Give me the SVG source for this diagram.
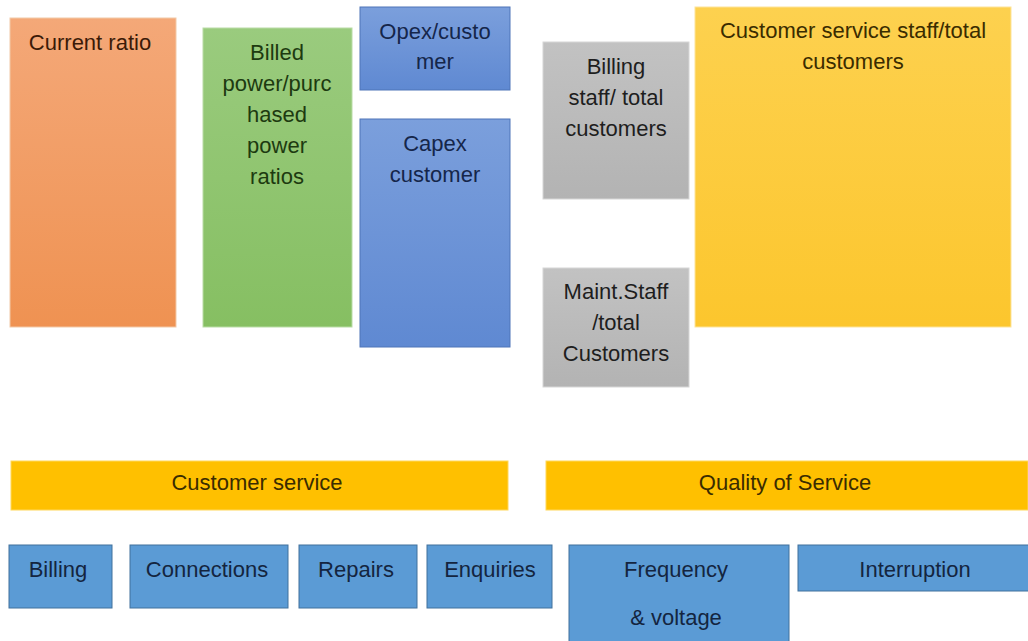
<svg xmlns="http://www.w3.org/2000/svg" width="1028" height="641" viewBox="0 0 1028 641">
  <defs>
    <linearGradient id="gOrange" x1="0" y1="0" x2="0" y2="1">
      <stop offset="0" stop-color="#f4a878"/>
      <stop offset="1" stop-color="#ef9252"/>
    </linearGradient>
    <linearGradient id="gGreen" x1="0" y1="0" x2="0" y2="1">
      <stop offset="0" stop-color="#9acb7e"/>
      <stop offset="1" stop-color="#86bf62"/>
    </linearGradient>
    <linearGradient id="gBlue" x1="0" y1="0" x2="0" y2="1">
      <stop offset="0" stop-color="#7b9fdc"/>
      <stop offset="1" stop-color="#5f89d2"/>
    </linearGradient>
    <linearGradient id="gGrey" x1="0" y1="0" x2="0" y2="1">
      <stop offset="0" stop-color="#c2c2c2"/>
      <stop offset="1" stop-color="#b3b3b3"/>
    </linearGradient>
    <linearGradient id="gGold" x1="0" y1="0" x2="0" y2="1">
      <stop offset="0" stop-color="#fdd14f"/>
      <stop offset="1" stop-color="#fcc62d"/>
    </linearGradient>
  </defs>
  <style>
    text { font-family: "Liberation Sans", Arial, sans-serif; font-size: 22px; text-anchor: middle; }
    .orange { fill: url(#gOrange); stroke: #f2c9a8; stroke-width: 1; }
    .green { fill: url(#gGreen); stroke: #b9dca6; stroke-width: 1; }
    .blue { fill: url(#gBlue); stroke: #4f74b8; stroke-width: 1; }
    .grey { fill: url(#gGrey); stroke: #d6d6d6; stroke-width: 1; }
    .gold { fill: url(#gGold); stroke: #fde49a; stroke-width: 1; }
    .bar { fill: #ffc000; stroke: #ffd75a; stroke-width: 1; }
    .item { fill: #5b9bd5; stroke: #41719c; stroke-width: 1; }
    .tOrange { fill: #3b1a08; }
    .tGreen { fill: #1d3a10; }
    .tBlue { fill: #15264a; }
    .tGrey { fill: #1e1e1e; }
    .tGold { fill: #3a2c00; }
    .tItem { fill: #14253f; }
  </style>

  <rect width="1028" height="641" fill="#ffffff"/>

  <!-- ratio indicators -->
  <g id="current-ratio">
    <rect class="orange" x="10" y="18" width="166" height="309"/>
    <text class="tOrange" x="90" y="50">Current ratio</text>
  </g>

  <g id="billed-power">
    <rect class="green" x="203" y="28" width="149" height="299"/>
    <text class="tGreen" x="277" y="60">Billed</text>
    <text class="tGreen" x="277" y="91">power/purc</text>
    <text class="tGreen" x="277" y="122">hased</text>
    <text class="tGreen" x="277" y="153">power</text>
    <text class="tGreen" x="277" y="184">ratios</text>
  </g>

  <g id="opex-customer">
    <rect class="blue" x="360" y="7" width="150" height="83"/>
    <text class="tBlue" x="435" y="39">Opex/custo</text>
    <text class="tBlue" x="435" y="69">mer</text>
  </g>

  <g id="capex-customer">
    <rect class="blue" x="360" y="119" width="150" height="228"/>
    <text class="tBlue" x="435" y="151">Capex</text>
    <text class="tBlue" x="435" y="182">customer</text>
  </g>

  <g id="billing-staff">
    <rect class="grey" x="543" y="42" width="146" height="157"/>
    <text class="tGrey" x="616" y="74">Billing</text>
    <text class="tGrey" x="616" y="105">staff/ total</text>
    <text class="tGrey" x="616" y="136">customers</text>
  </g>

  <g id="maint-staff">
    <rect class="grey" x="543" y="268" width="146" height="119"/>
    <text class="tGrey" x="616" y="299">Maint.Staff</text>
    <text class="tGrey" x="616" y="330">/total</text>
    <text class="tGrey" x="616" y="361">Customers</text>
  </g>

  <g id="cs-staff">
    <rect class="gold" x="695" y="7" width="316" height="320"/>
    <text class="tGold" x="853" y="38">Customer service staff/total</text>
    <text class="tGold" x="853" y="69">customers</text>
  </g>

  <!-- category bars -->
  <g id="customer-service">
    <rect class="bar" x="11" y="461" width="497" height="49"/>
    <text class="tGold" x="257" y="490">Customer service</text>
  </g>

  <g id="quality-of-service">
    <rect class="bar" x="546" y="461" width="482" height="49"/>
    <text class="tGold" x="785" y="490">Quality of Service</text>
  </g>

  <!-- items -->
  <g id="billing">
    <rect class="item" x="9" y="545" width="103" height="63"/>
    <text class="tItem" x="58" y="577">Billing</text>
  </g>

  <g id="connections">
    <rect class="item" x="130" y="545" width="158" height="63"/>
    <text class="tItem" x="207" y="577">Connections</text>
  </g>

  <g id="repairs">
    <rect class="item" x="299" y="545" width="118" height="63"/>
    <text class="tItem" x="356" y="577">Repairs</text>
  </g>

  <g id="enquiries">
    <rect class="item" x="427" y="545" width="125" height="63"/>
    <text class="tItem" x="490" y="577">Enquiries</text>
  </g>

  <g id="frequency-voltage">
    <rect class="item" x="569" y="545" width="220" height="100"/>
    <text class="tItem" x="676" y="577">Frequency</text>
    <text class="tItem" x="676" y="625">&amp; voltage</text>
  </g>

  <g id="interruption">
    <rect class="item" x="798" y="545" width="235" height="46"/>
    <text class="tItem" x="915" y="577">Interruption</text>
  </g>

  <g id="connectors"/>
</svg>
